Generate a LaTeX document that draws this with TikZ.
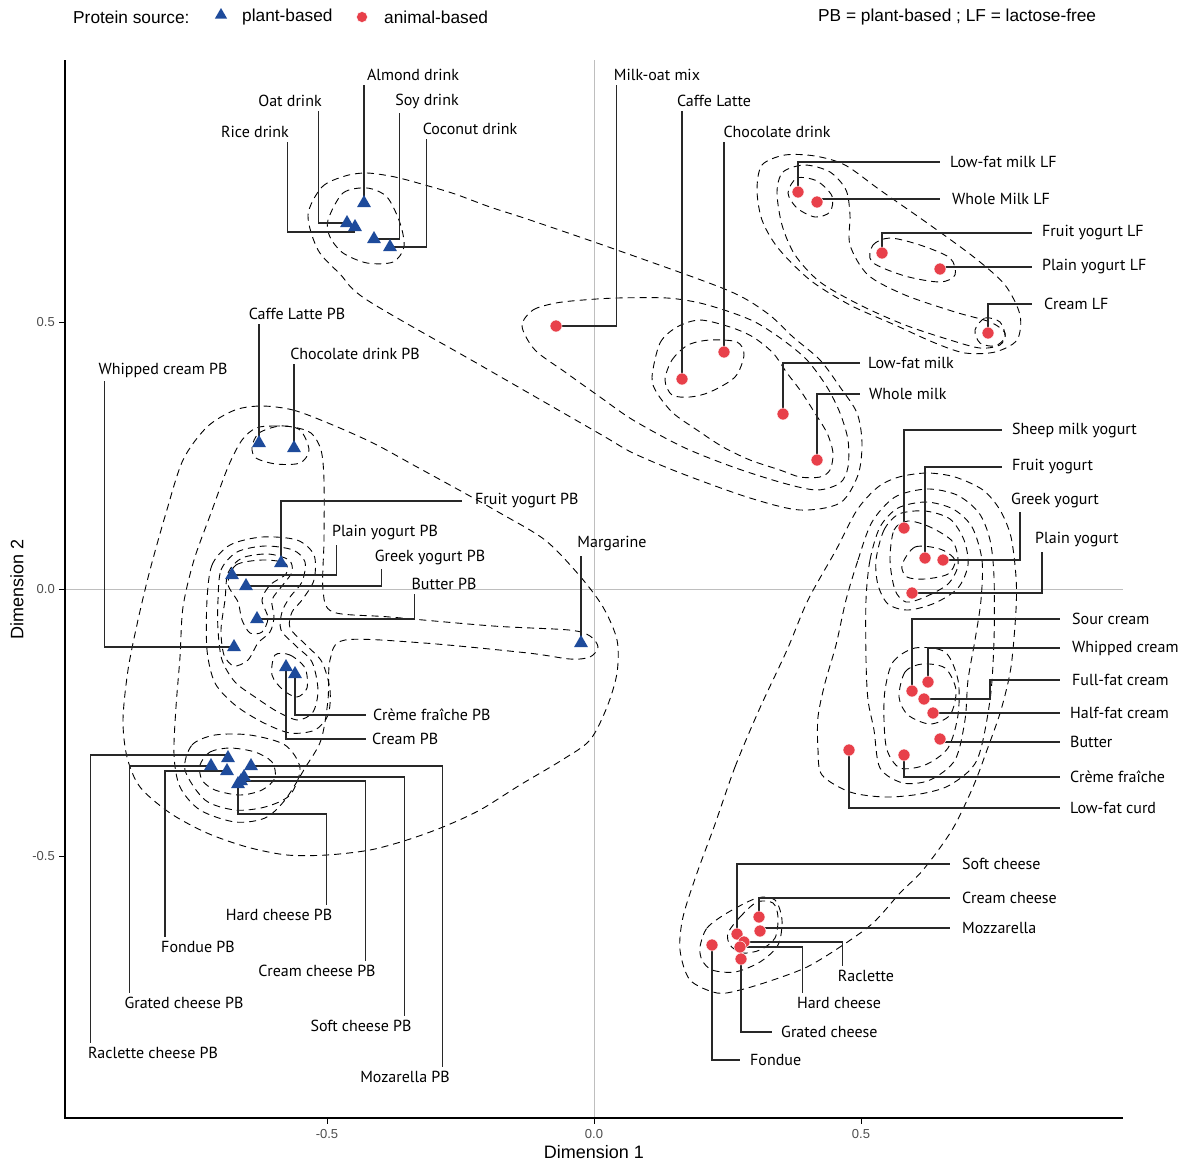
\documentclass[tikz,border=0pt]{standalone}
\usepackage{fontspec}
\setmainfont{Liberation Sans}
\newfontfamily\lblfamily{PT Sans}
\usetikzlibrary{shapes.geometric}
\definecolor{pbblue}{RGB}{30,75,155}
\definecolor{abred}{RGB}{232,64,74}
\definecolor{refgray}{RGB}{190,190,190}
\definecolor{tickgray}{RGB}{77,77,77}
\definecolor{leadgray}{RGB}{40,40,40}

\begin{document}
\begin{tikzpicture}[x=1pt, y=-1pt,
  pb/.style={regular polygon, regular polygon sides=3, fill=pbblue, inner sep=0pt, minimum size=16pt},
  ab/.style={circle, fill=abred, draw=white, line width=0.5pt, inner sep=0pt, minimum size=12pt},
  lbl/.style={font=\lblfamily\fontsize{16}{18}\selectfont, inner sep=0pt},
  lead/.style={draw=leadgray, line width=1.1pt},
  dens/.style={line width=0.9pt, dash pattern=on 7pt off 5pt},
  tick/.style={font=\fontsize{13}{15}\selectfont, text=tickgray, inner sep=0pt},
  axlbl/.style={font=\fontsize{18}{20}\selectfont, inner sep=0pt},
  key/.style={font=\fontsize{17.3}{20}\selectfont, anchor=west, inner sep=0pt}]
  \useasboundingbox (0,0) rectangle (1189,1163);

  % axes and reference lines
  \draw[refgray, line width=1pt] (594,60) -- (594,1118);
  \draw[refgray, line width=1pt] (65,589) -- (1123,589);
  \draw[line width=1.4pt] (65,60) -- (65,1118) -- (1123,1118);
  \foreach \x/\t in {327/-0.5, 594/0.0, 861/0.5} {
    \draw[line width=1pt] (\x,1118) -- (\x,1124);
    \node[tick] (xt\x) at (\x,1134) {\t};
  }
  \foreach \y/\t in {322/0.5, 589/0.0, 856/-0.5} {
    \draw[line width=1pt] (59,\y) -- (65,\y);
    \node[tick, anchor=east] (yt\y) at (55,\y) {\t};
  }
  \node[axlbl] (xtitle) at (594,1152) {Dimension 1};
  \node[axlbl, rotate=90] (ytitle) at (17,589) {Dimension 2};

  % legend
  \node[key] (keytitle) at (73,17) {Protein source:};
  \node[pb, minimum size=14pt] (keypb) at (221,15) {};
  \node[key] (keypbt) at (242,17) {plant-based};
  \node[ab, minimum size=11pt] (keyab) at (362,17) {};
  \node[key] (keyabt) at (384,17) {animal-based};
  \node[key] (abbr) at (818,17) {PB = plant-based ; LF = lactose-free};

  % density contours, top band
  \draw[dens] plot[smooth cycle] coordinates {(308,215) (322,187) (345,176) (367,173) (395,177) (425,185) (455,194) (490,207) (530,220) (617,250) (727,290) (767,313) (793,337) (820,360) (840,387) (857,413) (862,443) (858,475) (840,503) (800,510) (750,498) (683,474) (633,453) (600,434) (480,365) (367,300) (340,274) (318,250)};
  \draw[dens] plot[smooth cycle] coordinates {(328,220) (343,193) (367,188) (387,197) (400,223) (404,247) (393,262) (367,263) (343,253) (330,237)};
  \draw[dens] plot[smooth cycle] coordinates {(522,326) (533,310) (556,303) (583,300) (617,298) (667,298) (700,303) (733,313) (757,323) (783,340) (807,360) (827,387) (840,413) (848,440) (848,467) (840,483) (817,490) (783,483) (733,467) (683,447) (633,420) (600,397) (565,372) (535,350)};
  \draw[dens] plot[smooth cycle] coordinates {(652,377) (660,343) (677,327) (700,320) (730,327) (753,337) (773,353) (787,373) (800,390) (813,410) (827,433) (833,453) (830,470) (820,477) (800,477) (780,470) (750,460) (723,447) (697,430) (673,413) (657,393)};
  \draw[dens] plot[smooth cycle] coordinates {(665,380) (672,360) (688,345) (710,340) (737,342) (744,355) (735,377) (710,392) (690,397) (672,395)};

  % density contours, lactose-free
  \draw[dens] plot[smooth cycle] coordinates {(757,190) (762,165) (785,155) (815,156) (845,165) (880,190) (930,225) (975,258) (1005,285) (1020,315) (1017,340) (995,352) (965,353) (935,343) (895,325) (850,305) (810,280) (778,248) (762,220)};
  \draw[dens] plot[smooth cycle] coordinates {(777,192) (783,172) (805,165) (830,172) (846,190) (850,215) (850,245) (868,275) (905,295) (955,312) (990,322) (1005,333) (1000,345) (980,348) (950,340) (905,325) (860,305) (820,282) (795,255) (782,225)};
  \draw[dens] plot[smooth cycle] coordinates {(788,193) (797,178) (817,181) (832,196) (830,212) (815,217) (797,208)};
  \draw[dens] plot[smooth cycle] coordinates {(872,262) (873,245) (890,238) (920,245) (950,258) (955,275) (940,282) (905,276)};
  \draw[dens] plot[smooth cycle] coordinates {(975,330) (985,318) (1000,322) (1005,337) (995,346) (980,343)};

  % density contours, dairy right
  \draw[dens] plot[smooth cycle] coordinates {(714,827) (735,767) (759,710) (787,650) (808,600) (836,550) (857,510) (878,487) (899,477) (927,473) (955,477) (983,490) (1000,510) (1011,537) (1016,577) (1016,610) (1011,667) (1001,710) (987,750) (973,787) (952,830) (923,870) (900,893) (873,923) (840,947) (807,967) (773,980) (740,990) (717,993) (690,980) (680,950) (683,917) (697,873)};
  \draw[dens] plot[smooth cycle] coordinates {(846,600) (858,560) (872,522) (895,497) (927,489) (957,495) (979,513) (990,540) (994,577) (994,640) (990,700) (977,760) (950,785) (920,794) (885,797) (850,792) (822,775) (818,750) (818,717) (825,683) (836,645)};
  \draw[dens] plot[smooth cycle] coordinates {(866,600) (870,560) (880,527) (898,508) (926,502) (953,509) (972,527) (982,560) (981,600) (975,640) (968,680) (965,720) (955,760) (930,780) (903,783) (880,768) (874,730) (868,700) (866,660)};
  \draw[dens] plot[smooth cycle] coordinates {(876,560) (884,530) (899,514) (925,511) (950,519) (964,540) (968,565) (958,588) (935,603) (908,610) (888,604) (878,585)};
  \draw[dens] plot[smooth cycle] coordinates {(890,560) (894,530) (908,521) (930,527) (953,542) (958,565) (948,584) (925,597) (906,602) (895,590)};
  \draw[dens] plot[smooth cycle] coordinates {(902,565) (915,547) (940,549) (955,560) (948,574) (925,579) (907,577)};
  \draw[dens] plot[smooth cycle] coordinates {(885,690) (893,662) (915,648) (945,652) (958,680) (958,715) (948,748) (925,765) (900,768) (887,750) (884,720)};
  \draw[dens] plot[smooth cycle] coordinates {(899,697) (905,672) (922,664) (945,668) (956,690) (950,715) (930,724) (908,715)};
  \draw[dens] plot[smooth cycle] coordinates {(700,947) (707,928) (727,913) (757,898) (775,900) (782,920) (778,945) (760,962) (735,972) (712,970) (702,960)};
  \draw[dens] plot[smooth cycle] coordinates {(728,933) (740,917) (757,902) (773,903) (778,917) (775,938) (760,950) (742,953) (730,945)};

  % density contours, plant-based
  \draw[dens] plot[smooth cycle] coordinates {(262,406) (293,410) (328,423) (373,443) (417,467) (459,490) (500,513) (545,540) (579,575) (603,607) (617,640) (617,673) (607,707) (590,740) (562,760) (520,785) (480,810) (443,827) (407,840) (370,850) (327,855) (287,855) (247,847) (207,833) (170,813) (140,787) (127,757) (123,720) (128,670) (138,620) (150,570) (166,513) (183,460) (207,427) (235,410)};
  \draw[dens] plot[smooth cycle] coordinates {(256,428) (273,426) (293,427) (311,433) (321,450) (324,480) (324,540) (323,590) (333,612) (390,617) (493,626) (569,630) (590,636) (598,647) (590,657) (570,659) (528,653) (424,643) (345,640) (330,660) (328,700) (321,740) (305,768) (285,800) (265,818) (235,822) (200,810) (180,787) (174,755) (176,707) (180,657) (183,607) (194,560) (211,513) (228,467) (242,440)};
  \draw[dens] plot[smooth cycle] coordinates {(252,447) (259,433) (280,426) (300,430) (309,450) (300,463) (276,464) (256,458)};
  \draw[dens] plot[smooth cycle] coordinates {(207,600) (212,565) (230,545) (262,537) (297,540) (314,555) (314,580) (302,600) (292,612) (290,628) (306,645) (322,662) (330,690) (328,715) (315,730) (290,733) (262,722) (235,705) (215,683) (207,650)};
  \draw[dens] plot[smooth cycle] coordinates {(218,600) (221,570) (237,552) (265,546) (293,550) (305,562) (302,582) (290,597) (282,612) (281,630) (296,646) (312,662) (318,690) (313,712) (298,720) (278,712) (255,697) (235,682) (222,660) (218,630)};
  \draw[dens] plot[smooth cycle] coordinates {(225,600) (228,573) (242,558) (268,554) (289,560) (292,572) (282,586) (272,600) (274,617) (270,632) (258,643) (248,660) (234,666) (224,655) (221,630)};
  \draw[dens] plot[smooth cycle] coordinates {(228,584) (236,565) (262,560) (285,563) (286,574) (270,585) (262,600) (268,618) (262,632) (250,633) (242,620) (238,602)};
  \draw[dens] plot[smooth cycle] coordinates {(275,655) (290,655) (305,668) (307,688) (297,697) (283,690) (272,675)};
  \draw[dens] plot[smooth cycle] coordinates {(200,765) (210,752) (230,748) (255,752) (272,762) (275,778) (262,790) (240,795) (215,790) (202,780)};
  \draw[dens] plot[smooth cycle] coordinates {(185,770) (192,745) (215,735) (250,735) (285,745) (300,768) (290,795) (265,807) (235,810) (205,800)};

  % data points
  \coordinate (almond) at (364,203);
  \coordinate (oat) at (347,223);
  \coordinate (rice) at (355,227);
  \coordinate (soy) at (374,239);
  \coordinate (coconut) at (390,247);
  \coordinate (caffePB) at (259,443);
  \coordinate (chocoPB) at (294,448);
  \coordinate (fruitPB) at (281,563);
  \coordinate (plainPB) at (232,575);
  \coordinate (greekPB) at (246,586);
  \coordinate (butterPB) at (257,619);
  \coordinate (whippedPB) at (234,647);
  \coordinate (margarine) at (581,643);
  \coordinate (creamPB) at (286,667);
  \coordinate (cremePB) at (295,674);
  \coordinate (raclettePB) at (228,758);
  \coordinate (gratedPB) at (211,766);
  \coordinate (fonduePB) at (227,771);
  \coordinate (mozarellaPB) at (251,766);
  \coordinate (softPB) at (244,777);
  \coordinate (creamchPB) at (241,781);
  \coordinate (hardPB) at (238,784);
  \coordinate (milkoat) at (556,326);
  \coordinate (caffe) at (682,379);
  \coordinate (choco) at (724,352);
  \coordinate (lowfat) at (783,414);
  \coordinate (whole) at (817,460);
  \coordinate (lfmLF) at (798,192);
  \coordinate (wmLF) at (817,202);
  \coordinate (fyLF) at (882,253);
  \coordinate (pyLF) at (940,269);
  \coordinate (crLF) at (988,333);
  \coordinate (sheep) at (904,528);
  \coordinate (fruit) at (925,558);
  \coordinate (greek) at (943,560);
  \coordinate (plain) at (912,593);
  \coordinate (sour) at (912,691);
  \coordinate (whipped) at (928,682);
  \coordinate (fullfat) at (924,699);
  \coordinate (halffat) at (933,713);
  \coordinate (butter) at (940,739);
  \coordinate (creme) at (904,755);
  \coordinate (curd) at (849,750);
  \coordinate (softch) at (737,934);
  \coordinate (creamch) at (759,917);
  \coordinate (mozz) at (760,931);
  \coordinate (raclette) at (744,942);
  \coordinate (hardch) at (740,947);
  \coordinate (grated) at (741,959);
  \coordinate (fondue) at (712,945);

  % labels
  \node[lbl] (almondL) at (413,75) {Almond drink};
  \node[lbl] (oatL) at (290,101) {Oat drink};
  \node[lbl] (soyL) at (427,101) {Soy drink};
  \node[lbl] (riceL) at (255,132) {Rice drink};
  \node[lbl] (coconutL) at (470,129) {Coconut drink};
  \node[lbl] (milkoatL) at (657,75) {Milk-oat mix};
  \node[lbl] (caffeL) at (714,101) {Caffe Latte};
  \node[lbl] (chocoL) at (777,132) {Chocolate drink};
  \node[lbl, anchor=west] (lfmLFL) at (950,162) {Low-fat milk LF};
  \node[lbl, anchor=west] (wmLFL) at (952,199) {Whole Milk LF};
  \node[lbl, anchor=west] (fyLFL) at (1042,233) {Fruit yogurt LF};
  \node[lbl, anchor=west] (pyLFL) at (1042,267) {Plain yogurt LF};
  \node[lbl, anchor=west] (crLFL) at (1044,304) {Cream LF};
  \node[lbl, anchor=west] (lowfatL) at (868,363) {Low-fat milk};
  \node[lbl, anchor=west] (wholeL) at (869,394) {Whole milk};
  \node[lbl, anchor=west] (sheepL) at (1012,430) {Sheep milk yogurt};
  \node[lbl, anchor=west] (fruitL) at (1012,467) {Fruit yogurt};
  \node[lbl, anchor=west] (greekL) at (1011,500) {Greek yogurt};
  \node[lbl, anchor=west] (plainL) at (1035,540) {Plain yogurt};
  \node[lbl, anchor=west] (sourL) at (1072,619) {Sour cream};
  \node[lbl, anchor=west] (whippedL) at (1072,648) {Whipped cream};
  \node[lbl, anchor=west] (fullfatL) at (1072,680) {Full-fat cream};
  \node[lbl, anchor=west] (halffatL) at (1070,713) {Half-fat cream};
  \node[lbl, anchor=west] (butterL) at (1070,742) {Butter};
  \node[lbl, anchor=west] (cremeL) at (1070,777) {Crème fraîche};
  \node[lbl, anchor=west] (curdL) at (1070,808) {Low-fat curd};
  \node[lbl, anchor=west] (softchL) at (962,864) {Soft cheese};
  \node[lbl, anchor=west] (creamchL) at (962,898) {Cream cheese};
  \node[lbl, anchor=west] (mozzL) at (962,928) {Mozzarella};
  \node[lbl] (racletteL) at (866,976) {Raclette};
  \node[lbl] (hardchL) at (839,1003) {Hard cheese};
  \node[lbl, anchor=west] (gratedL) at (781,1032) {Grated cheese};
  \node[lbl, anchor=west] (fondueL) at (750,1060) {Fondue};
  \node[lbl] (caffePBL) at (297,314) {Caffe Latte PB};
  \node[lbl] (chocoPBL) at (355,354) {Chocolate drink PB};
  \node[lbl] (whippedPBL) at (163,370) {Whipped cream PB};
  \node[lbl, anchor=west] (fruitPBL) at (475,501) {Fruit yogurt PB};
  \node[lbl] (plainPBL) at (385,533) {Plain yogurt PB};
  \node[lbl] (greekPBL) at (430,557) {Greek yogurt PB};
  \node[lbl] (butterPBL) at (444,584) {Butter PB};
  \node[lbl] (margarineL) at (612,544) {Margarine};
  \node[lbl, anchor=west] (cremePBL) at (373,715) {Crème fraîche PB};
  \node[lbl, anchor=west] (creamPBL) at (372,739) {Cream PB};
  \node[lbl] (hardPBL) at (279,915) {Hard cheese PB};
  \node[lbl] (fonduePBL) at (198,947) {Fondue PB};
  \node[lbl] (creamchPBL) at (317,971) {Cream cheese PB};
  \node[lbl] (gratedPBL) at (184,1003) {Grated cheese PB};
  \node[lbl] (softPBL) at (361,1026) {Soft cheese PB};
  \node[lbl] (raclettePBL) at (153,1053) {Raclette cheese PB};
  \node[lbl] (mozarellaPBL) at (405,1077) {Mozarella PB};

  % leader lines
  \draw[lead] (almond) -- ([yshift=-4pt]almond |- almondL.south);
  \draw[lead] (oat) -| ([xshift=-3pt,yshift=-4pt]oatL.south east);
  \draw[lead] ([yshift=-5pt]rice) -| ([xshift=-2pt,yshift=-4pt]riceL.south east);
  \draw[lead] (soy) -| ([xshift=4pt,yshift=-4pt]soyL.south west);
  \draw[lead] (coconut) -| ([xshift=4pt,yshift=-4pt]coconutL.south west);
  \draw[lead] (milkoat) -| ([xshift=3pt,yshift=-4pt]milkoatL.south west);
  \draw[lead] (caffe) -- ([yshift=-4pt]caffe |- caffeL.south);
  \draw[lead] (choco) -- ([yshift=-4pt]choco |- chocoL.south);
  \draw[lead] (lfmLF) |- ([xshift=-10pt]lfmLFL.west);
  \draw[lead] (wmLF) |- ([xshift=-12pt]wmLFL.west);
  \draw[lead] (fyLF) |- ([xshift=-10pt]fyLFL.west);
  \draw[lead] (pyLF) |- ([xshift=-10pt]pyLFL.west);
  \draw[lead] (crLF) |- ([xshift=-12pt]crLFL.west);
  \draw[lead] (lowfat) |- ([xshift=-8pt]lowfatL.west);
  \draw[lead] (whole) |- ([xshift=-9pt]wholeL.west);
  \draw[lead] (sheep) |- ([xshift=-10pt]sheepL.west);
  \draw[lead] (fruit) |- ([xshift=-10pt]fruitL.west);
  \draw[lead] (greek) -| ([xshift=9pt,yshift=-4pt]greekL.south west);
  \draw[lead] (plain) -| ([xshift=7pt,yshift=-4pt]plainL.south west);
  \draw[lead] (sour) |- ([xshift=-12pt]sourL.west);
  \draw[lead] (whipped) |- ([xshift=-12pt]whippedL.west);
  \draw[lead] (fullfat) -| ([xshift=-82pt]fullfatL.west) -- ([xshift=-12pt]fullfatL.west);
  \draw[lead] (halffat) |- ([xshift=-10pt]halffatL.west);
  \draw[lead] (butter) |- ([xshift=-10pt]butterL.west);
  \draw[lead] (creme) |- ([xshift=-10pt]cremeL.west);
  \draw[lead] (curd) |- ([xshift=-10pt]curdL.west);
  \draw[lead] (softch) |- ([xshift=-12pt]softchL.west);
  \draw[lead] (creamch) |- ([xshift=-12pt]creamchL.west);
  \draw[lead] (mozz) |- ([xshift=-12pt]mozzL.west);
  \draw[lead] (raclette) -| ([xshift=5pt,yshift=4pt]racletteL.north west);
  \draw[lead] (hardch) -| ([xshift=6pt,yshift=4pt]hardchL.north west);
  \draw[lead] (grated) |- ([xshift=-9pt]gratedL.west);
  \draw[lead] (fondue) |- ([xshift=-10pt]fondueL.west);
  \draw[lead] (caffePB) -- ([yshift=-4pt]caffePB |- caffePBL.south);
  \draw[lead] (chocoPB) -- ([yshift=-4pt]chocoPB |- chocoPBL.south);
  \draw[lead] (whippedPB) -| ([xshift=6pt,yshift=-4pt]whippedPBL.south west);
  \draw[lead] (fruitPB) |- ([xshift=-13pt]fruitPBL.west);
  \draw[lead] (plainPB) -| ([xshift=5pt,yshift=-4pt]plainPBL.south west);
  \draw[lead] (greekPB) -| ([xshift=7pt,yshift=-4pt]greekPBL.south west);
  \draw[lead] (butterPB) -| ([xshift=3pt,yshift=-4pt]butterPBL.south west);
  \draw[lead] (margarine) -- ([yshift=-4pt]margarine |- margarineL.south);
  \draw[lead] (cremePB) |- ([xshift=-7pt]cremePBL.west);
  \draw[lead] (creamPB) |- ([xshift=-6pt]creamPBL.west);
  \draw[lead] (hardPB) -- ++(0,30) -| ([xshift=-6pt,yshift=4pt]hardPBL.north east);
  \draw[lead] (fonduePB) -| ([xshift=4pt,yshift=4pt]fonduePBL.north west);
  \draw[lead] (creamchPB) -| ([xshift=-10pt,yshift=4pt]creamchPBL.north east);
  \draw[lead] (gratedPB) -| ([xshift=5pt,yshift=4pt]gratedPBL.north west);
  \draw[lead] (softPB) -| ([xshift=-7pt,yshift=4pt]softPBL.north east);
  \draw[lead] ([yshift=3pt]raclettePB) -| ([xshift=3pt,yshift=4pt]raclettePBL.north west);
  \draw[lead] (mozarellaPB) -| ([xshift=-7pt,yshift=4pt]mozarellaPBL.north east);

  % markers
  \foreach \p in {almond, oat, rice, soy, coconut, caffePB, chocoPB, fruitPB, plainPB,
    greekPB, butterPB, whippedPB, margarine, creamPB, cremePB, raclettePB, gratedPB,
    fonduePB, mozarellaPB, softPB, creamchPB, hardPB}
    \node[pb] (\p M) at (\p) {};
  \foreach \p in {milkoat, caffe, choco, lowfat, whole, lfmLF, wmLF, fyLF, pyLF, crLF,
    sheep, fruit, greek, plain, sour, whipped, fullfat, halffat, butter, creme, curd,
    softch, creamch, mozz, raclette, hardch, grated, fondue}
    \node[ab] (\p M) at (\p) {};
\end{tikzpicture}
\end{document}
